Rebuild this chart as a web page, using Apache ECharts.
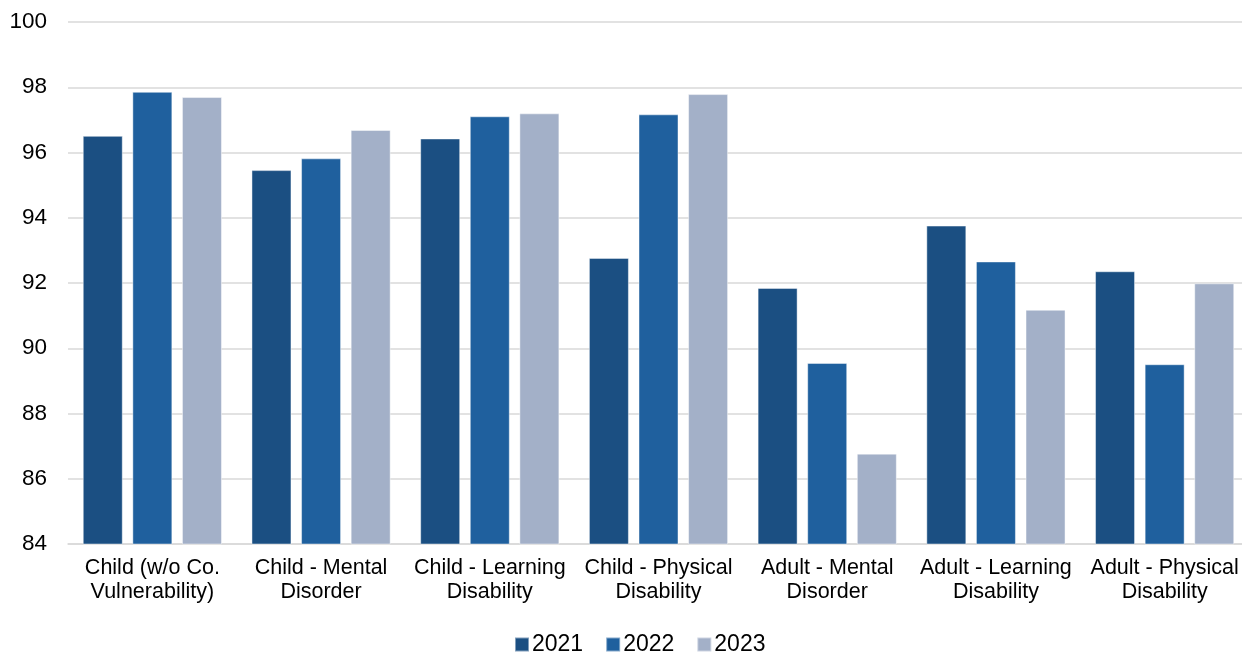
<!DOCTYPE html>
<html>
<head>
<meta charset="utf-8">
<script src="https://cdn.jsdelivr.net/npm/echarts@6/dist/echarts.min.js"></script>
<style>
html,body{margin:0;padding:0;background:#fff;}
#chart{width:1242px;height:653px;}
</style>
</head>
<body>
<div id="chart"></div>
<script>
var categories = [
  "Child (w/o Co.\nVulnerability)",
  "Child - Mental\nDisorder",
  "Child - Learning\nDisability",
  "Child - Physical\nDisability",
  "Adult - Mental\nDisorder",
  "Adult - Learning\nDisability",
  "Adult - Physical\nDisability"
];
var seriesNames = ["2021", "2022", "2023"];
var values2021 = [96.51, 95.46, 96.43, 92.77, 91.85, 93.76, 92.36];
var values2022 = [97.86, 95.82, 97.11, 97.17, 89.55, 92.66, 89.51];
var values2023 = [97.70, 96.69, 97.20, 97.79, 86.77, 91.18, 91.99];
var yTicks = { min: 84, max: 100, interval: 2 };

var colors = ["#1B4F82", "#1F609E", "#A3B0C8"];
var allValues = [values2021, values2022, values2023];
var FONT = "'Liberation Sans', Arial, sans-serif";

var chart = echarts.init(document.getElementById('chart'), null, {renderer: 'canvas'});
chart.setOption({
  animation: false,
  backgroundColor: '#ffffff',
  textStyle: { fontFamily: FONT },
  grid: { left: 68, width: 1181, top: 22, height: 522, containLabel: false, outerBoundsMode: 'none' },
  legend: {
    data: seriesNames,
    top: 633,
    left: 514,
    padding: 0,
    icon: 'rect',
    itemWidth: 14,
    itemHeight: 14,
    itemGap: 22,
    textStyle: { fontSize: 23, color: '#000', fontFamily: FONT, padding: [0, 0, 0, -2] }
  },
  xAxis: {
    type: 'category',
    data: categories,
    axisLine: { show: true, lineStyle: { color: '#d9d9d9', width: 1.5 } },
    axisTick: { show: false },
    axisLabel: { fontSize: 21.5, color: '#000', lineHeight: 24, margin: 12, interval: 0, fontFamily: FONT }
  },
  yAxis: {
    type: 'value',
    min: yTicks.min,
    max: yTicks.max,
    interval: yTicks.interval,
    axisLine: { show: false },
    axisTick: { show: false },
    splitLine: { lineStyle: { color: '#d9d9d9', width: 1.5 } },
    axisLabel: { fontSize: 22.5, color: '#000', margin: 21, fontFamily: FONT }
  },
  series: seriesNames.map(function (name, i) {
    return {
      name: name,
      type: 'bar',
      data: allValues[i],
      barWidth: 40,
      barGap: '24%',
      itemStyle: { color: colors[i], borderColor: 'rgba(255,255,255,0.45)', borderWidth: 1 }
    };
  })
});
</script>
</body>
</html>
